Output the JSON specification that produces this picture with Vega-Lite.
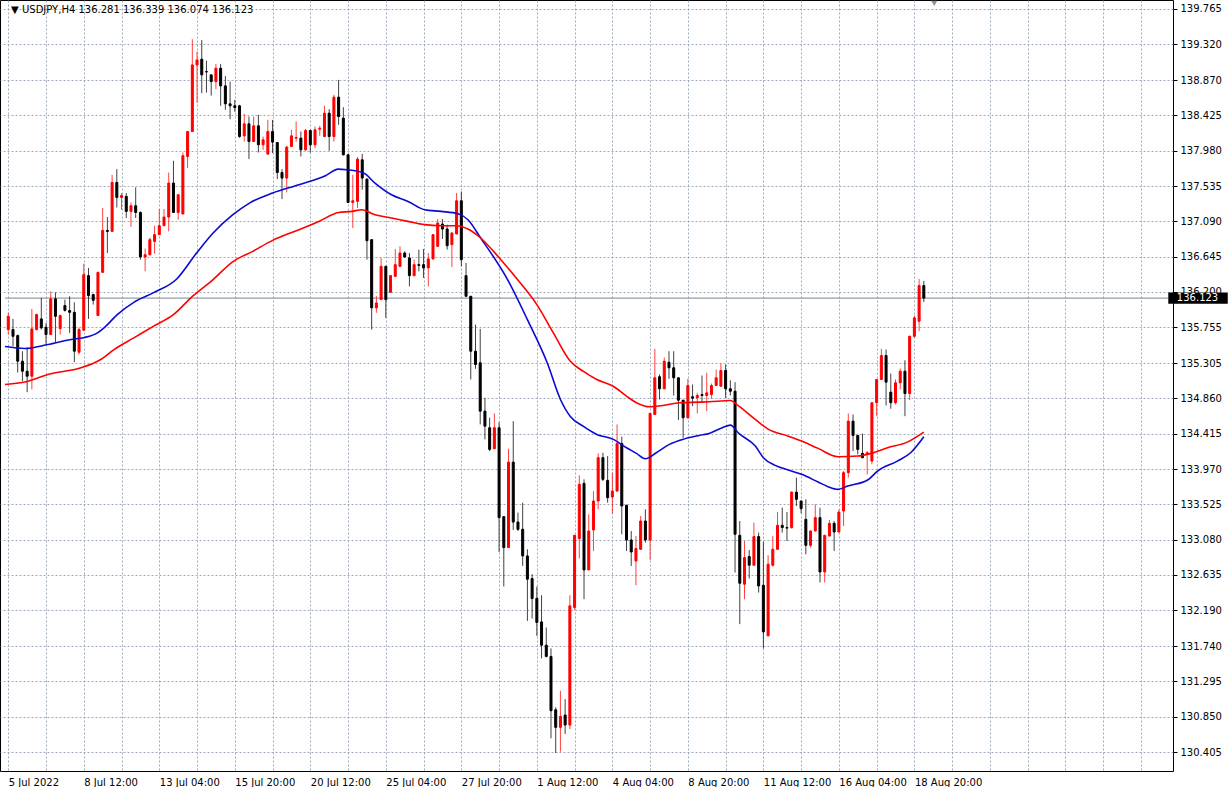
{
  "$schema": "https://vega.github.io/schema/vega-lite/v6.json",
  "width": 1173,
  "height": 771,
  "padding": 0,
  "autosize": {"type": "pad"},
  "background": "white",
  "config": {"view": {"stroke": "#000000", "strokeWidth": 1}, "font": "DejaVu Sans"},
  "datasets": {
    "candles": [
      {"i":0,"o":135.727,"h":135.94,"l":135.664,"c":135.894},
      {"i":1,"o":135.727,"h":135.861,"l":135.517,"c":135.642},
      {"i":2,"o":135.651,"h":135.664,"l":135.186,"c":135.328},
      {"i":3,"o":135.328,"h":135.454,"l":135.076,"c":135.202},
      {"i":4,"o":135.202,"h":135.5,"l":134.938,"c":135.139},
      {"i":5,"o":135.139,"h":135.987,"l":134.972,"c":135.735},
      {"i":6,"o":135.727,"h":135.928,"l":135.714,"c":135.915},
      {"i":7,"o":135.861,"h":136.125,"l":135.727,"c":135.748},
      {"i":8,"o":135.756,"h":135.811,"l":135.538,"c":135.664},
      {"i":9,"o":135.664,"h":136.208,"l":135.664,"c":136.113},
      {"i":10,"o":136.113,"h":136.196,"l":135.567,"c":135.894},
      {"i":11,"o":135.739,"h":135.915,"l":135.664,"c":135.903},
      {"i":12,"o":136.029,"h":136.104,"l":135.953,"c":135.969},
      {"i":13,"o":135.966,"h":136.146,"l":135.685,"c":135.944},
      {"i":14,"o":135.944,"h":136.07,"l":135.315,"c":135.454},
      {"i":15,"o":135.441,"h":135.752,"l":135.412,"c":135.727},
      {"i":16,"o":135.718,"h":136.557,"l":135.714,"c":136.418},
      {"i":17,"o":136.406,"h":136.503,"l":135.861,"c":136.154},
      {"i":18,"o":136.167,"h":136.179,"l":136.041,"c":136.095},
      {"i":19,"o":135.903,"h":136.456,"l":135.903,"c":136.447},
      {"i":20,"o":136.447,"h":137.258,"l":136.447,"c":136.976},
      {"i":21,"o":136.976,"h":137.144,"l":136.691,"c":136.963},
      {"i":22,"o":136.963,"h":137.677,"l":136.963,"c":137.58},
      {"i":23,"o":137.58,"h":137.748,"l":137.265,"c":137.391},
      {"i":24,"o":137.391,"h":137.446,"l":137.236,"c":137.416},
      {"i":25,"o":137.404,"h":137.446,"l":137.132,"c":137.215},
      {"i":26,"o":137.215,"h":137.328,"l":137.019,"c":137.286},
      {"i":27,"o":137.286,"h":137.517,"l":137.132,"c":137.202},
      {"i":28,"o":137.202,"h":137.215,"l":136.607,"c":136.641},
      {"i":29,"o":136.641,"h":136.746,"l":136.46,"c":136.67},
      {"i":30,"o":136.67,"h":136.884,"l":136.658,"c":136.859},
      {"i":31,"o":136.837,"h":137.035,"l":136.683,"c":136.922},
      {"i":32,"o":136.922,"h":137.245,"l":136.922,"c":137.035},
      {"i":33,"o":137.035,"h":137.245,"l":137.035,"c":137.144},
      {"i":34,"o":137.144,"h":137.705,"l":136.963,"c":137.572},
      {"i":35,"o":137.572,"h":137.853,"l":137.195,"c":137.202},
      {"i":36,"o":137.202,"h":137.425,"l":137.11,"c":137.425},
      {"i":37,"o":137.182,"h":137.957,"l":137.182,"c":137.916},
      {"i":38,"o":137.907,"h":138.221,"l":137.761,"c":138.221},
      {"i":39,"o":138.221,"h":139.384,"l":138.221,"c":139.06},
      {"i":40,"o":139.06,"h":139.228,"l":138.586,"c":139.123},
      {"i":41,"o":139.132,"h":139.375,"l":138.704,"c":138.935},
      {"i":42,"o":138.976,"h":139.114,"l":138.712,"c":138.972},
      {"i":43,"o":138.935,"h":138.94,"l":138.674,"c":138.85},
      {"i":44,"o":138.85,"h":139.073,"l":138.755,"c":139.019},
      {"i":45,"o":139.019,"h":139.073,"l":138.545,"c":138.796},
      {"i":46,"o":138.796,"h":138.922,"l":138.494,"c":138.57},
      {"i":47,"o":138.57,"h":138.85,"l":138.377,"c":138.545},
      {"i":48,"o":138.545,"h":138.62,"l":138.469,"c":138.523},
      {"i":49,"o":138.545,"h":138.557,"l":138.142,"c":138.158},
      {"i":50,"o":138.167,"h":138.444,"l":138.095,"c":138.318},
      {"i":51,"o":138.318,"h":138.41,"l":137.874,"c":138.095},
      {"i":52,"o":138.095,"h":138.41,"l":138.09,"c":138.293},
      {"i":53,"o":138.293,"h":138.431,"l":137.957,"c":138.054},
      {"i":54,"o":138.054,"h":138.158,"l":137.991,"c":138.117},
      {"i":55,"o":137.937,"h":138.368,"l":137.93,"c":138.221},
      {"i":56,"o":138.221,"h":138.368,"l":137.95,"c":138.088},
      {"i":57,"o":138.083,"h":138.09,"l":137.622,"c":137.705},
      {"i":58,"o":137.705,"h":137.748,"l":137.371,"c":137.635},
      {"i":59,"o":137.635,"h":138.041,"l":137.454,"c":138.025},
      {"i":60,"o":138.033,"h":138.243,"l":138.025,"c":138.167},
      {"i":61,"o":138.138,"h":138.347,"l":138.095,"c":138.146},
      {"i":62,"o":138.138,"h":138.221,"l":137.907,"c":137.991},
      {"i":63,"o":137.991,"h":138.255,"l":137.978,"c":138.234},
      {"i":64,"o":138.234,"h":138.243,"l":137.957,"c":138.054},
      {"i":65,"o":138.054,"h":138.284,"l":138.012,"c":138.243},
      {"i":66,"o":138.251,"h":138.293,"l":138.167,"c":138.264},
      {"i":67,"o":138.158,"h":138.545,"l":138.15,"c":138.453},
      {"i":68,"o":138.453,"h":138.503,"l":137.978,"c":138.158},
      {"i":69,"o":138.158,"h":138.683,"l":138.095,"c":138.654},
      {"i":70,"o":138.654,"h":138.872,"l":138.306,"c":138.41},
      {"i":71,"o":138.39,"h":138.528,"l":137.92,"c":137.928},
      {"i":72,"o":137.928,"h":137.935,"l":137.32,"c":137.328},
      {"i":73,"o":137.328,"h":137.677,"l":137.006,"c":137.349},
      {"i":74,"o":137.341,"h":137.899,"l":137.258,"c":137.874},
      {"i":75,"o":137.865,"h":137.941,"l":137.488,"c":137.635},
      {"i":76,"o":137.622,"h":137.63,"l":136.607,"c":136.846},
      {"i":77,"o":136.859,"h":136.865,"l":135.727,"c":136.0},
      {"i":78,"o":136.0,"h":136.146,"l":135.937,"c":136.062},
      {"i":79,"o":136.104,"h":136.629,"l":136.1,"c":136.523},
      {"i":80,"o":136.523,"h":136.53,"l":135.874,"c":136.104},
      {"i":81,"o":136.196,"h":136.41,"l":136.19,"c":136.406},
      {"i":82,"o":136.397,"h":136.742,"l":136.39,"c":136.544},
      {"i":83,"o":136.523,"h":136.775,"l":136.515,"c":136.691},
      {"i":84,"o":136.691,"h":136.712,"l":136.629,"c":136.641},
      {"i":85,"o":136.629,"h":136.691,"l":136.271,"c":136.406},
      {"i":86,"o":136.406,"h":136.607,"l":136.397,"c":136.544},
      {"i":87,"o":136.544,"h":136.733,"l":136.46,"c":136.535},
      {"i":88,"o":136.544,"h":136.742,"l":136.377,"c":136.503},
      {"i":89,"o":136.503,"h":136.691,"l":136.271,"c":136.616},
      {"i":90,"o":136.616,"h":136.93,"l":136.61,"c":136.922},
      {"i":91,"o":136.775,"h":137.119,"l":136.77,"c":137.069},
      {"i":92,"o":137.056,"h":137.119,"l":136.868,"c":136.993},
      {"i":93,"o":136.993,"h":137.048,"l":136.733,"c":136.783},
      {"i":94,"o":136.796,"h":136.95,"l":136.515,"c":136.943},
      {"i":95,"o":136.931,"h":137.446,"l":136.925,"c":137.349},
      {"i":96,"o":137.349,"h":137.466,"l":136.523,"c":136.607},
      {"i":97,"o":136.406,"h":136.566,"l":136.14,"c":136.146},
      {"i":98,"o":136.146,"h":136.15,"l":135.098,"c":135.454},
      {"i":99,"o":135.454,"h":135.79,"l":135.232,"c":135.286},
      {"i":100,"o":135.308,"h":135.735,"l":134.532,"c":134.699},
      {"i":101,"o":134.699,"h":134.867,"l":134.343,"c":134.51},
      {"i":102,"o":134.49,"h":134.616,"l":134.196,"c":134.217},
      {"i":103,"o":134.226,"h":134.67,"l":134.22,"c":134.49},
      {"i":104,"o":134.49,"h":134.56,"l":132.925,"c":133.358},
      {"i":105,"o":133.37,"h":133.375,"l":132.49,"c":132.98},
      {"i":106,"o":132.98,"h":134.226,"l":132.975,"c":134.057},
      {"i":107,"o":134.057,"h":134.573,"l":133.202,"c":133.302},
      {"i":108,"o":133.302,"h":133.421,"l":133.189,"c":133.211},
      {"i":109,"o":133.211,"h":133.546,"l":132.749,"c":132.875},
      {"i":110,"o":132.875,"h":132.959,"l":132.057,"c":132.582},
      {"i":111,"o":132.59,"h":132.645,"l":132.087,"c":132.339},
      {"i":112,"o":132.339,"h":132.49,"l":131.868,"c":132.037},
      {"i":113,"o":132.044,"h":132.38,"l":131.584,"c":131.751},
      {"i":114,"o":131.751,"h":131.974,"l":131.597,"c":131.609},
      {"i":115,"o":131.609,"h":131.71,"l":130.578,"c":130.925},
      {"i":116,"o":130.937,"h":130.968,"l":130.393,"c":130.716},
      {"i":117,"o":130.716,"h":131.176,"l":130.409,"c":130.854},
      {"i":118,"o":130.871,"h":131.072,"l":130.632,"c":130.745},
      {"i":119,"o":130.745,"h":132.38,"l":130.695,"c":132.246},
      {"i":120,"o":132.226,"h":133.14,"l":132.195,"c":133.135},
      {"i":121,"o":133.094,"h":133.89,"l":132.842,"c":133.777},
      {"i":122,"o":133.789,"h":133.84,"l":132.33,"c":132.699},
      {"i":123,"o":132.699,"h":133.399,"l":132.695,"c":133.189},
      {"i":124,"o":133.202,"h":133.692,"l":132.938,"c":133.567},
      {"i":125,"o":133.567,"h":134.167,"l":133.462,"c":134.113},
      {"i":126,"o":134.113,"h":134.175,"l":133.818,"c":133.84},
      {"i":127,"o":133.827,"h":134.133,"l":133.546,"c":133.609},
      {"i":128,"o":133.617,"h":133.924,"l":133.408,"c":133.692},
      {"i":129,"o":133.692,"h":134.532,"l":133.69,"c":134.292},
      {"i":130,"o":134.292,"h":134.377,"l":133.148,"c":133.504},
      {"i":131,"o":133.513,"h":133.52,"l":132.938,"c":133.076},
      {"i":132,"o":133.076,"h":133.189,"l":132.749,"c":132.925},
      {"i":133,"o":132.812,"h":133.126,"l":132.506,"c":132.968},
      {"i":134,"o":132.959,"h":133.378,"l":132.955,"c":133.315},
      {"i":135,"o":133.315,"h":133.462,"l":133.043,"c":133.076},
      {"i":136,"o":133.076,"h":134.68,"l":132.824,"c":134.67},
      {"i":137,"o":134.657,"h":135.484,"l":134.65,"c":135.119},
      {"i":138,"o":135.132,"h":135.161,"l":134.846,"c":134.981},
      {"i":139,"o":134.981,"h":135.374,"l":134.975,"c":135.328},
      {"i":140,"o":135.315,"h":135.454,"l":135.106,"c":135.245},
      {"i":141,"o":135.245,"h":135.454,"l":134.896,"c":135.119},
      {"i":142,"o":135.119,"h":135.125,"l":134.586,"c":134.837},
      {"i":143,"o":134.837,"h":134.84,"l":134.364,"c":134.616},
      {"i":144,"o":134.616,"h":135.106,"l":134.603,"c":135.022},
      {"i":145,"o":134.88,"h":135.035,"l":134.762,"c":134.862},
      {"i":146,"o":134.867,"h":134.93,"l":134.67,"c":134.896},
      {"i":147,"o":134.909,"h":135.148,"l":134.812,"c":134.896},
      {"i":148,"o":134.896,"h":135.182,"l":134.699,"c":134.93},
      {"i":149,"o":134.909,"h":135.047,"l":134.855,"c":135.022},
      {"i":150,"o":135.022,"h":135.223,"l":135.02,"c":135.119},
      {"i":151,"o":135.013,"h":135.299,"l":135.01,"c":135.211},
      {"i":152,"o":135.211,"h":135.286,"l":134.867,"c":134.981},
      {"i":153,"o":134.981,"h":135.089,"l":134.896,"c":134.95},
      {"i":154,"o":134.95,"h":135.064,"l":132.666,"c":133.148},
      {"i":155,"o":133.135,"h":133.315,"l":132.016,"c":132.531},
      {"i":156,"o":132.519,"h":133.063,"l":132.33,"c":132.854},
      {"i":157,"o":132.867,"h":132.95,"l":132.59,"c":132.758},
      {"i":158,"o":132.758,"h":133.295,"l":132.755,"c":133.119},
      {"i":159,"o":133.119,"h":133.169,"l":132.414,"c":132.497},
      {"i":160,"o":132.506,"h":133.051,"l":131.71,"c":131.919},
      {"i":161,"o":131.868,"h":132.884,"l":131.865,"c":132.77},
      {"i":162,"o":132.758,"h":133.126,"l":132.741,"c":132.959},
      {"i":163,"o":132.959,"h":133.428,"l":132.955,"c":133.261},
      {"i":164,"o":133.261,"h":133.483,"l":133.169,"c":133.232},
      {"i":165,"o":133.232,"h":133.428,"l":133.063,"c":133.226},
      {"i":166,"o":133.232,"h":133.685,"l":133.219,"c":133.68},
      {"i":167,"o":133.68,"h":133.861,"l":133.504,"c":133.588},
      {"i":168,"o":133.567,"h":133.57,"l":133.412,"c":133.471},
      {"i":169,"o":133.336,"h":133.588,"l":132.896,"c":133.009},
      {"i":170,"o":133.009,"h":133.195,"l":132.98,"c":133.189},
      {"i":171,"o":133.189,"h":133.525,"l":133.185,"c":133.358},
      {"i":172,"o":133.358,"h":133.483,"l":132.54,"c":132.673},
      {"i":173,"o":132.673,"h":133.14,"l":132.54,"c":133.135},
      {"i":174,"o":133.126,"h":133.328,"l":133.12,"c":133.286},
      {"i":175,"o":133.286,"h":133.315,"l":132.938,"c":133.177},
      {"i":176,"o":133.177,"h":133.46,"l":133.17,"c":133.428},
      {"i":177,"o":133.441,"h":133.944,"l":133.252,"c":133.924},
      {"i":178,"o":133.924,"h":134.67,"l":133.861,"c":134.573},
      {"i":179,"o":134.573,"h":134.657,"l":134.196,"c":134.393},
      {"i":180,"o":134.393,"h":134.4,"l":134.154,"c":134.217},
      {"i":181,"o":134.167,"h":134.418,"l":134.105,"c":134.113},
      {"i":182,"o":134.154,"h":134.196,"l":133.903,"c":134.175},
      {"i":183,"o":134.07,"h":134.81,"l":134.03,"c":134.805},
      {"i":184,"o":134.805,"h":135.105,"l":134.636,"c":135.098},
      {"i":185,"o":135.098,"h":135.484,"l":135.095,"c":135.4},
      {"i":186,"o":135.4,"h":135.475,"l":134.771,"c":135.064},
      {"i":187,"o":134.938,"h":135.173,"l":134.729,"c":134.805},
      {"i":188,"o":134.805,"h":135.098,"l":134.783,"c":135.056},
      {"i":189,"o":135.056,"h":135.236,"l":134.972,"c":135.202},
      {"i":190,"o":135.202,"h":135.34,"l":134.636,"c":134.921},
      {"i":191,"o":134.921,"h":135.65,"l":134.837,"c":135.642},
      {"i":192,"o":135.642,"h":135.903,"l":135.626,"c":135.874},
      {"i":193,"o":135.831,"h":136.364,"l":135.705,"c":136.281},
      {"i":194,"o":136.281,"h":136.339,"l":136.074,"c":136.123}
    ],
    "ma": [
      {"s":"fast","i":-0.69,"v":135.513},{"s":"fast","i":3.5,"v":135.488},{"s":"fast","i":8.4,"v":135.538},{"s":"fast","i":13.3,"v":135.601},{"s":"fast","i":16.1,"v":135.626},{"s":"fast","i":18.9,"v":135.685},{"s":"fast","i":20.3,"v":135.748},{"s":"fast","i":23.1,"v":135.915},{"s":"fast","i":26.6,"v":136.07},{"s":"fast","i":30.8,"v":136.192},{"s":"fast","i":35.7,"v":136.364},{"s":"fast","i":39.9,"v":136.691},{"s":"fast","i":43.4,"v":136.943},{"s":"fast","i":47.6,"v":137.173},{"s":"fast","i":51.1,"v":137.32},{"s":"fast","i":56.0,"v":137.446},{"s":"fast","i":61.6,"v":137.551},{"s":"fast","i":67.2,"v":137.664},{"s":"fast","i":69.9,"v":137.748},{"s":"fast","i":71.8,"v":137.739},{"s":"fast","i":75.3,"v":137.698},{"s":"fast","i":77.7,"v":137.572},{"s":"fast","i":81.2,"v":137.425},{"s":"fast","i":84.7,"v":137.341},{"s":"fast","i":88.2,"v":137.236},{"s":"fast","i":91.7,"v":137.215},{"s":"fast","i":95.3,"v":137.186},{"s":"fast","i":97.4,"v":137.11},{"s":"fast","i":100.1,"v":136.88},{"s":"fast","i":105.8,"v":136.356},{"s":"fast","i":110.0,"v":135.852},{"s":"fast","i":114.2,"v":135.308},{"s":"fast","i":117.0,"v":134.846},{"s":"fast","i":119.1,"v":134.632},{"s":"fast","i":121.8,"v":134.51},{"s":"fast","i":124.7,"v":134.406},{"s":"fast","i":128.2,"v":134.343},{"s":"fast","i":131.0,"v":134.238},{"s":"fast","i":133.1,"v":134.167},{"s":"fast","i":135.0,"v":134.1},{"s":"fast","i":137.3,"v":134.175},{"s":"fast","i":140.1,"v":134.28},{"s":"fast","i":142.9,"v":134.343},{"s":"fast","i":146.4,"v":134.393},{"s":"fast","i":148.5,"v":134.418},{"s":"fast","i":151.3,"v":134.49},{"s":"fast","i":153.0,"v":134.523},{"s":"fast","i":154.8,"v":134.418},{"s":"fast","i":158.3,"v":134.259},{"s":"fast","i":160.0,"v":134.113},{"s":"fast","i":162.5,"v":134.016},{"s":"fast","i":165.3,"v":133.957},{"s":"fast","i":168.1,"v":133.903},{"s":"fast","i":171.6,"v":133.806},{"s":"fast","i":173.7,"v":133.748},{"s":"fast","i":175.8,"v":133.714},{"s":"fast","i":177.9,"v":133.756},{"s":"fast","i":182.1,"v":133.831},{"s":"fast","i":184.2,"v":133.944},{"s":"fast","i":188.4,"v":134.07},{"s":"fast","i":191.2,"v":134.175},{"s":"fast","i":194.0,"v":134.377},
      {"s":"slow","i":-0.69,"v":135.035},{"s":"slow","i":4.2,"v":135.076},{"s":"slow","i":8.4,"v":135.161},{"s":"slow","i":15.4,"v":135.245},{"s":"slow","i":19.6,"v":135.349},{"s":"slow","i":22.4,"v":135.475},{"s":"slow","i":26.6,"v":135.622},{"s":"slow","i":30.8,"v":135.77},{"s":"slow","i":35.0,"v":135.915},{"s":"slow","i":39.2,"v":136.154},{"s":"slow","i":43.4,"v":136.356},{"s":"slow","i":47.6,"v":136.582},{"s":"slow","i":51.8,"v":136.712},{"s":"slow","i":56.0,"v":136.85},{"s":"slow","i":61.6,"v":136.985},{"s":"slow","i":65.8,"v":137.089},{"s":"slow","i":70.0,"v":137.202},{"s":"slow","i":72.8,"v":137.215},{"s":"slow","i":74.9,"v":137.236},{"s":"slow","i":77.7,"v":137.173},{"s":"slow","i":81.2,"v":137.132},{"s":"slow","i":84.7,"v":137.089},{"s":"slow","i":88.2,"v":137.048},{"s":"slow","i":91.7,"v":137.035},{"s":"slow","i":94.9,"v":137.035},{"s":"slow","i":97.4,"v":136.993},{"s":"slow","i":100.1,"v":136.88},{"s":"slow","i":104.0,"v":136.632},{"s":"slow","i":107.9,"v":136.356},{"s":"slow","i":112.0,"v":136.041},{"s":"slow","i":115.5,"v":135.685},{"s":"slow","i":119.1,"v":135.328},{"s":"slow","i":121.8,"v":135.202},{"s":"slow","i":124.7,"v":135.098},{"s":"slow","i":128.2,"v":135.013},{"s":"slow","i":131.0,"v":134.888},{"s":"slow","i":133.1,"v":134.805},{"s":"slow","i":135.9,"v":134.754},{"s":"slow","i":138.7,"v":134.771},{"s":"slow","i":142.2,"v":134.805},{"s":"slow","i":146.4,"v":134.812},{"s":"slow","i":148.5,"v":134.817},{"s":"slow","i":153.0,"v":134.833},{"s":"slow","i":154.8,"v":134.762},{"s":"slow","i":158.3,"v":134.594},{"s":"slow","i":161.1,"v":134.469},{"s":"slow","i":165.3,"v":134.384},{"s":"slow","i":168.1,"v":134.322},{"s":"slow","i":171.6,"v":134.23},{"s":"slow","i":175.8,"v":134.125},{"s":"slow","i":180.0,"v":134.133},{"s":"slow","i":182.8,"v":134.167},{"s":"slow","i":186.3,"v":134.238},{"s":"slow","i":190.5,"v":134.309},{"s":"slow","i":194.0,"v":134.435}
    ]
  },
  "layer": [
    {
      "data": {"values": [{}]},
      "mark": {"type": "rule", "color": "#7d8590", "strokeWidth": 1},
      "encoding": {
        "x": {"datum": -0.693, "type": "quantitative", "title": null,
          "scale": {"domain": [-0.693, 245.74], "nice": false, "zero": false},
          "axis": {"values": [0,8,16,24,32,40,48,56,64,72,80,88,96,104,112,120,128,136,144,152,160,168,176,184,192,200,208,216,224,232,240],
            "tickCount": 60,
            "labelExpr": "['5 Jul 2022','','8 Jul 12:00','','13 Jul 04:00','','15 Jul 20:00','','20 Jul 12:00','','25 Jul 04:00','','27 Jul 20:00','','1 Aug 12:00','','4 Aug 04:00','','8 Aug 20:00','','11 Aug 12:00','','16 Aug 04:00','','18 Aug 20:00','','','','','',''][round(datum.value/8)] || ''",
            "grid": true, "gridDash": [2, 2], "gridColor": "#8796ab", "gridOpacity": 0.8, "gridWidth": 1,
            "ticks": false, "domain": false, "labelAlign": "left", "labelBaseline": "top", "labelPadding": 6,
            "labelFontSize": 10, "labelColor": "#000000", "labelFont": "DejaVu Sans", "labelOverlap": false, "labelFlush": false, "labelBound": false}},
        "x2": {"datum": 245.74},
        "y": {"datum": 136.123, "type": "quantitative", "title": null,
          "scale": {"domain": [130.166, 139.878], "nice": false, "zero": false},
          "axis": {"orient": "right", "values": [139.765,139.32,138.87,138.425,137.98,137.535,137.09,136.645,136.2,135.755,135.305,134.86,134.415,133.97,133.525,133.08,132.635,132.19,131.74,131.295,130.85,130.405],
            "tickCount": 60,
            "format": ".3f", "grid": true, "gridDash": [2, 2], "gridColor": "#8796ab", "gridOpacity": 0.8, "gridWidth": 1,
            "ticks": true, "tickSize": 4, "tickColor": "#000000", "domain": false, "labelPadding": 3,
            "labelFontSize": 10, "labelColor": "#000000", "labelFont": "DejaVu Sans", "labelOverlap": false, "labelBaseline": "middle"}}
      }
    },
    {
      "data": {"name": "candles"},
      "mark": {"type": "rule", "strokeWidth": 1, "opacity": 0.75},
      "encoding": {
        "x": {"field": "i", "type": "quantitative", "title": null},
        "y": {"field": "l", "type": "quantitative", "title": null},
        "y2": {"field": "h"},
        "color": {"condition": {"test": "datum.c > datum.o", "value": "#ff0000"}, "value": "#000000"}
      }
    },
    {
      "data": {"name": "candles"},
      "mark": {"type": "bar", "size": 2, "strokeWidth": 1},
      "encoding": {
        "x": {"field": "i", "type": "quantitative", "title": null},
        "y": {"field": "o", "type": "quantitative", "title": null},
        "y2": {"field": "c"},
        "color": {"condition": {"test": "datum.c > datum.o", "value": "#ff0000"}, "value": "#000000"},
        "stroke": {"condition": {"test": "datum.c > datum.o", "value": "#ff0000"}, "value": "#000000"}
      }
    },
    {
      "data": {"name": "ma"},
      "mark": {"type": "line", "strokeWidth": 1.6, "interpolate": "monotone"},
      "encoding": {
        "x": {"field": "i", "type": "quantitative", "title": null},
        "y": {"field": "v", "type": "quantitative", "title": null},
        "color": {"field": "s", "type": "nominal", "scale": {"domain": ["fast", "slow"], "range": ["#0a0ad2", "#ff0000"]}, "legend": null},
        "detail": {"field": "s"}
      }
    },
    {
      "data": {"values": [{}]},
      "mark": {"type": "rect", "color": "#000000", "clip": false},
      "encoding": {
        "x": {"datum": 245.8, "type": "quantitative"},
        "x2": {"datum": 258.4},
        "y": {"datum": 136.195, "type": "quantitative"},
        "y2": {"datum": 136.051}
      }
    },
    {
      "data": {"values": [{}]},
      "mark": {"type": "text", "color": "#ffffff", "clip": false, "align": "center", "baseline": "middle", "fontSize": 10, "font": "DejaVu Sans", "text": "136.123"},
      "encoding": {
        "x": {"datum": 252.0, "type": "quantitative"},
        "y": {"datum": 136.123, "type": "quantitative"}
      }
    },
    {
      "data": {"values": [{}]},
      "mark": {"type": "text", "color": "#000000", "align": "left", "baseline": "middle", "fontSize": 10, "font": "DejaVu Sans", "text": "▼  USDJPY,H4 136.281 136.339 136.074 136.123"},
      "encoding": {
        "x": {"datum": 0.6, "type": "quantitative"},
        "y": {"datum": 139.748, "type": "quantitative"}
      }
    },
    {
      "data": {"values": [{}]},
      "mark": {"type": "point", "shape": "triangle-down", "filled": true, "color": "#8a94a5", "size": 36, "opacity": 1, "clip": false},
      "encoding": {
        "x": {"datum": 196.2, "type": "quantitative"},
        "y": {"datum": 139.835, "type": "quantitative"}
      }
    }
  ]
}
